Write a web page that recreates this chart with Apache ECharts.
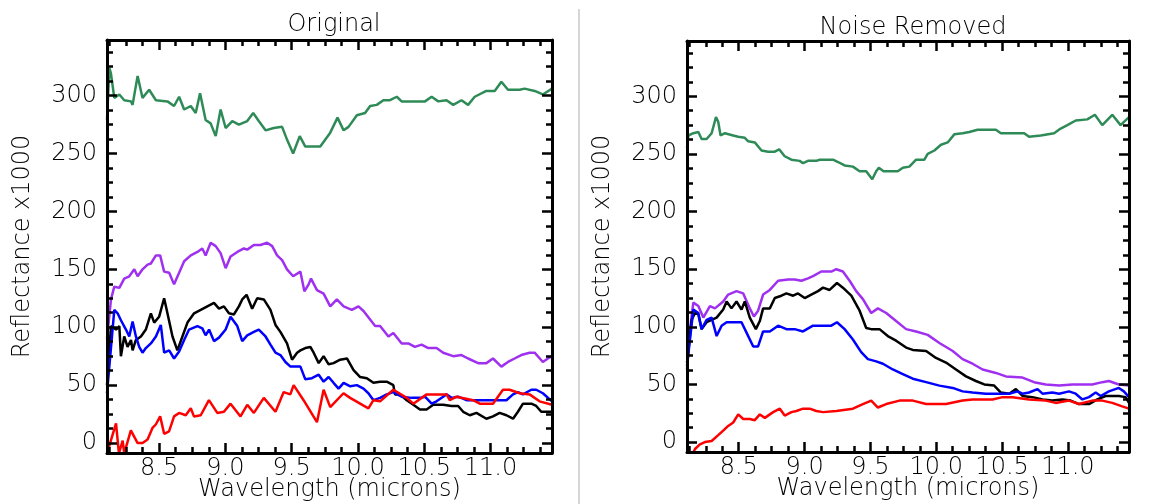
<!DOCTYPE html>
<html>
<head>
<meta charset="utf-8">
<title>Original / Noise Removed</title>
<script src="https://cdn.jsdelivr.net/npm/echarts@6.0.0/dist/echarts.min.js"></script>
<style>
  html, body { margin: 0; padding: 0; background: #fff; }
  #chart { width: 1150px; height: 504px; }
</style>
</head>
<body>
<div id="chart"></div>
<script>
// Axes shared by both panels
const xMin = 8.107, xMax = 11.464;
const yMin = -8.6, yMax = 348;
const xMajorTicks = [8.5, 9.0, 9.5, 10.0, 10.5, 11.0];
const xMinorTicks = [8.125, 8.25, 8.375, 8.625, 8.75, 8.875, 9.125, 9.25, 9.375, 9.625, 9.75, 9.875,
  10.125, 10.25, 10.375, 10.625, 10.75, 10.875, 11.125, 11.25, 11.375];
const yMajorTicks = [0, 50, 100, 150, 200, 250, 300];
const yMinorTicks = [12.5, 25, 37.5, 62.5, 75, 87.5, 112.5, 125, 137.5, 162.5, 175, 187.5,
  212.5, 225, 237.5, 262.5, 275, 287.5, 312.5, 325, 337.5];

// Panel 1 : Original  -> [wavelength (microns), reflectance x1000]
const origGreen = [[8.107,279],[8.125,324],[8.137,319],[8.162,298],[8.2,301],[8.237,296],[8.288,295],[8.3,292],
  [8.338,317],[8.375,298],[8.425,305],[8.476,296],[8.563,295],[8.613,291],[8.651,299],[8.689,288],[8.739,291],
  [8.776,285],[8.809,302],[8.851,279],[8.889,276],[8.927,265],[8.964,288],[9.002,272],[9.052,278],[9.102,275],
  [9.165,278],[9.21,285],[9.252,278],[9.303,270],[9.365,272],[9.428,273],[9.465,262],[9.511,250],[9.561,265],
  [9.603,256],[9.716,256],[9.791,268],[9.846,281],[9.892,270],[9.929,273],[9.992,283],[10.054,285],[10.092,291],
  [10.142,292],[10.192,296],[10.242,296],[10.293,299],[10.33,295],[10.506,295],[10.556,299],[10.606,295],
  [10.668,296],[10.719,292],[10.781,296],[10.831,292],[10.881,299],[10.969,304],[11.032,304],[11.082,312],
  [11.132,305],[11.22,305],[11.257,306],[11.333,304],[11.395,301],[11.464,306]];
const origPurple = [[8.107,90],[8.137,124],[8.162,135],[8.2,134],[8.237,142],[8.275,144],[8.313,150],[8.338,144],
  [8.375,150],[8.413,154],[8.438,155],[8.476,162],[8.508,162],[8.538,148],[8.576,147],[8.613,137],[8.651,147],
  [8.689,157],[8.739,162],[8.789,165],[8.826,168],[8.851,162],[8.889,173],[8.927,170],[8.964,164],[9.002,151],
  [9.039,161],[9.09,165],[9.14,168],[9.165,167],[9.215,171],[9.265,171],[9.315,173],[9.353,170],[9.39,162],
  [9.428,158],[9.465,150],[9.511,144],[9.566,148],[9.596,131],[9.628,137],[9.646,142],[9.691,132],[9.741,129],
  [9.791,118],[9.841,124],[9.892,118],[9.954,115],[10.004,118],[10.042,114],[10.13,101],[10.167,101],[10.23,92],
  [10.267,95],[10.33,86],[10.38,86],[10.43,83],[10.48,85],[10.531,82],[10.593,82],[10.643,78],[10.719,75],
  [10.781,76],[10.831,73],[10.907,69],[10.969,69],[11.019,73],[11.082,66],[11.132,70],[11.182,73],[11.232,76],
  [11.295,78],[11.333,78],[11.395,70],[11.433,73],[11.464,75]];
const origBlack = [[8.107,50],[8.137,101],[8.175,98],[8.2,101],[8.212,75],[8.237,92],[8.262,83],[8.288,89],
  [8.3,80],[8.325,89],[8.363,92],[8.4,98],[8.438,112],[8.463,104],[8.5,109],[8.538,125],[8.563,112],[8.601,92],
  [8.638,80],[8.676,92],[8.714,104],[8.764,112],[8.814,115],[8.864,118],[8.914,121],[8.952,116],[8.989,118],
  [9.027,112],[9.064,111],[9.102,118],[9.127,124],[9.16,128],[9.202,116],[9.24,125],[9.29,124],[9.34,115],
  [9.378,102],[9.415,96],[9.465,86],[9.503,72],[9.541,78],[9.566,80],[9.603,82],[9.641,83],[9.666,78],
  [9.704,69],[9.741,75],[9.779,68],[9.816,69],[9.866,72],[9.917,73],[9.967,63],[10.017,57],[10.067,56],
  [10.117,52],[10.167,53],[10.217,53],[10.267,50],[10.28,42],[10.318,42],[10.368,37],[10.418,33],[10.468,29],
  [10.518,29],[10.568,33],[10.643,33],[10.706,32],[10.756,32],[10.794,27],[10.844,24],[10.894,26],[10.969,21],
  [11.019,23],[11.069,26],[11.12,24],[11.17,21],[11.207,27],[11.245,34],[11.308,34],[11.345,32],[11.383,27],
  [11.464,27]];
const origBlue = [[8.107,43],[8.162,115],[8.187,112],[8.212,106],[8.25,98],[8.275,92],[8.3,105],[8.325,92],
  [8.35,83],[8.375,78],[8.4,82],[8.438,86],[8.476,92],[8.513,102],[8.538,78],[8.576,80],[8.613,73],[8.651,79],
  [8.689,89],[8.726,98],[8.789,101],[8.826,99],[8.851,93],[8.877,98],[8.914,88],[8.952,91],[9.002,98],
  [9.039,109],[9.09,101],[9.127,88],[9.165,93],[9.215,96],[9.252,98],[9.303,92],[9.34,85],[9.378,78],
  [9.415,76],[9.453,70],[9.491,66],[9.566,66],[9.603,55],[9.653,56],[9.704,59],[9.741,53],[9.779,57],
  [9.816,52],[9.854,47],[9.892,52],[9.942,49],[9.992,50],[10.042,47],[10.079,43],[10.117,37],[10.167,39],
  [10.217,42],[10.267,44],[10.33,40],[10.405,39],[10.468,39],[10.506,40],[10.556,34],[10.593,36],[10.643,40],
  [10.668,42],[10.706,39],[10.756,40],[10.819,37],[11.019,37],[11.12,37],[11.17,42],[11.207,44],[11.245,42],
  [11.308,46],[11.345,46],[11.395,43],[11.464,36]];
const origRed = [[8.107,-9],[8.175,17],[8.197,-9],[8.225,2],[8.237,-9],[8.287,11],[8.338,0],[8.375,0],
  [8.413,3],[8.45,13],[8.475,16],[8.508,23],[8.538,8],[8.575,10],[8.613,23],[8.651,26],[8.701,24],[8.739,30],
  [8.763,23],[8.814,24],[8.876,37],[8.939,26],[8.989,27],[9.039,34],[9.114,23],[9.165,33],[9.215,26],
  [9.29,39],[9.378,27],[9.44,44],[9.49,42],[9.515,50],[9.59,37],[9.691,18],[9.741,46],[9.791,31],[9.891,43],
  [9.941,39],[10.079,30],[10.117,37],[10.167,36],[10.267,46],[10.368,39],[10.418,34],[10.518,42],[10.669,42],
  [10.693,37],[10.744,40],[10.869,37],[10.919,34],[11.019,34],[11.094,46],[11.144,46],[11.22,43],[11.295,42],
  [11.37,36],[11.464,33]];

// Panel 2 : Noise Removed
const cleanGreen = [[8.107,255],[8.117,266],[8.155,268],[8.193,269],[8.218,263],[8.256,263],[8.294,268],
  [8.327,282],[8.344,278],[8.362,266],[8.395,268],[8.458,266],[8.496,265],[8.546,264],[8.572,261],[8.622,260],
  [8.673,253],[8.723,252],[8.774,252],[8.807,254],[8.849,248],[8.9,245],[8.963,244],[8.988,242],[9.026,244],
  [9.089,244],[9.115,245],[9.216,245],[9.254,243],[9.304,240],[9.367,239],[9.418,235],[9.468,235],[9.514,228],
  [9.544,235],[9.564,238],[9.6,235],[9.708,235],[9.746,238],[9.796,239],[9.847,245],[9.91,245],[9.935,250],
  [9.986,253],[10.036,258],[10.087,260],[10.137,267],[10.2,268],[10.251,269],[10.314,271],[10.453,271],
  [10.491,268],[10.668,268],[10.705,265],[10.794,266],[10.895,268],[10.945,272],[10.996,275],[11.059,279],
  [11.147,280],[11.205,284],[11.261,275],[11.337,284],[11.4,275],[11.464,282]];
const cleanPurple = [[8.107,63],[8.13,98],[8.155,121],[8.193,118],[8.231,108],[8.281,118],[8.319,116],
  [8.382,122],[8.42,128],[8.483,131],[8.534,129],[8.584,116],[8.615,109],[8.647,114],[8.685,128],[8.736,132],
  [8.799,140],[8.875,141],[8.925,141],[8.976,140],[9.026,142],[9.064,144],[9.127,148],[9.203,148],[9.241,150],
  [9.291,148],[9.342,140],[9.392,131],[9.443,124],[9.506,112],[9.557,116],[9.62,112],[9.695,105],[9.771,98],
  [9.847,96],[9.935,93],[10.024,86],[10.125,79],[10.2,72],[10.276,68],[10.352,63],[10.453,60],[10.529,57],
  [10.655,56],[10.743,52],[10.832,50],[10.933,49],[11.034,50],[11.185,50],[11.261,52],[11.311,53],[11.387,50],
  [11.464,49]];
const cleanBlack = [[8.107,69],[8.142,106],[8.168,112],[8.193,111],[8.218,98],[8.256,104],[8.294,106],
  [8.332,108],[8.382,115],[8.408,122],[8.445,116],[8.483,122],[8.521,115],[8.546,122],[8.584,108],[8.63,98],
  [8.66,105],[8.685,116],[8.736,116],[8.774,125],[8.824,127],[8.862,129],[8.913,127],[8.95,129],[9.001,125],
  [9.051,128],[9.102,131],[9.14,134],[9.19,132],[9.246,138],[9.291,134],[9.355,127],[9.418,114],[9.468,99],
  [9.506,98],[9.569,98],[9.632,92],[9.695,88],[9.771,82],[9.822,80],[9.923,79],[9.998,73],[10.074,69],
  [10.15,63],[10.226,57],[10.301,53],[10.365,50],[10.44,49],[10.491,43],[10.554,42],[10.605,46],[10.655,40],
  [10.731,39],[10.807,37],[10.882,36],[10.958,37],[11.021,36],[11.084,33],[11.16,33],[11.223,37],[11.286,40],
  [11.387,40],[11.438,39],[11.464,34]];
const cleanBlue = [[8.107,66],[8.155,115],[8.193,112],[8.218,98],[8.256,106],[8.294,108],[8.332,92],
  [8.37,101],[8.408,104],[8.521,104],[8.559,95],[8.61,83],[8.647,83],[8.685,96],[8.736,96],[8.799,101],
  [8.862,98],[8.925,98],[8.988,96],[9.064,101],[9.14,101],[9.203,101],[9.246,104],[9.304,98],[9.367,89],
  [9.43,78],[9.481,72],[9.544,70],[9.595,68],[9.67,63],[9.746,59],[9.822,55],[9.923,52],[10.024,49],
  [10.125,47],[10.2,44],[10.276,43],[10.377,42],[10.478,42],[10.554,42],[10.617,44],[10.655,42],[10.705,43],
  [10.769,46],[10.807,42],[10.882,43],[10.933,42],[11.008,44],[11.059,42],[11.11,37],[11.16,39],[11.211,43],
  [11.249,40],[11.311,44],[11.387,47],[11.425,44],[11.464,39]];
const cleanRed = [[8.13,-15],[8.168,-6],[8.205,-2],[8.243,0],[8.294,1],[8.344,6],[8.382,10],[8.42,14],
  [8.458,17],[8.496,24],[8.534,20],[8.584,20],[8.622,19],[8.66,24],[8.698,21],[8.761,26],[8.812,29],[8.849,23],
  [8.9,26],[8.938,27],[8.988,29],[9.039,29],[9.089,27],[9.14,26],[9.241,27],[9.367,29],[9.443,33],[9.506,36],
  [9.557,30],[9.62,33],[9.721,36],[9.822,36],[9.923,33],[10.074,33],[10.2,36],[10.276,37],[10.428,37],
  [10.503,39],[10.579,39],[10.705,37],[10.832,36],[10.907,34],[11.008,36],[11.084,33],[11.185,36],[11.261,36],
  [11.337,34],[11.412,31],[11.464,29]];

const FONT = 'DejaVu Sans';
const INK = '#000';
const AXIS_LINE = { show: true, onZero: false, lineStyle: { color: '#000', width: 3 } };
const textStyle = { color: INK, fontSize: 24, fontFamily: FONT, fontWeight: 200 };

// 4 x axes for one grid : bottom / top, major and minor ticks
function xAxesFor(gridIndex) {
  const base = {
    type: 'value', gridIndex: gridIndex, min: xMin, max: xMax,
    splitLine: { show: false }, axisLabel: { show: false },
    axisLine: { show: false, onZero: false }, z: 5
  };
  return [
    Object.assign({}, base, {
      position: 'bottom', axisLine: AXIS_LINE,
      axisTick: { inside: true, length: 10, customValues: xMajorTicks, lineStyle: { color: '#000', width: 2.5 } },
      axisLabel: Object.assign({ show: true, customValues: xMajorTicks, margin: 4,
        formatter: v => v.toFixed(1) }, textStyle),
      name: 'Wavelength (microns)', nameLocation: 'middle', nameGap: 25, nameMoveOverlap: false,
      nameTextStyle: textStyle
    }),
    Object.assign({}, base, {
      position: 'bottom',
      axisTick: { inside: true, length: 6, customValues: xMinorTicks, lineStyle: { color: '#000', width: 2.5 } }
    }),
    Object.assign({}, base, {
      position: 'top', axisLine: AXIS_LINE,
      axisTick: { inside: true, length: 10, customValues: xMajorTicks, lineStyle: { color: '#000', width: 2.5 } }
    }),
    Object.assign({}, base, {
      position: 'top',
      axisTick: { inside: true, length: 6, customValues: xMinorTicks, lineStyle: { color: '#000', width: 2.5 } }
    })
  ];
}

function yAxesFor(gridIndex) {
  const base = {
    type: 'value', gridIndex: gridIndex, min: yMin, max: yMax,
    splitLine: { show: false }, axisLabel: { show: false },
    axisLine: { show: false, onZero: false }, z: 5
  };
  return [
    Object.assign({}, base, {
      position: 'left', axisLine: AXIS_LINE,
      axisTick: { inside: true, length: 10, customValues: yMajorTicks, lineStyle: { color: '#000', width: 2.5 } },
      axisLabel: Object.assign({ show: true, customValues: yMajorTicks, margin: 10 }, textStyle),
      name: 'Reflectance x1000', nameLocation: 'middle', nameGap: 72, nameMoveOverlap: false,
      nameTextStyle: textStyle
    }),
    Object.assign({}, base, {
      position: 'left',
      axisTick: { inside: true, length: 6, customValues: yMinorTicks, lineStyle: { color: '#000', width: 2.5 } }
    }),
    Object.assign({}, base, {
      position: 'right', axisLine: AXIS_LINE,
      axisTick: { inside: true, length: 10, customValues: yMajorTicks, lineStyle: { color: '#000', width: 2.5 } }
    }),
    Object.assign({}, base, {
      position: 'right',
      axisTick: { inside: true, length: 6, customValues: yMinorTicks, lineStyle: { color: '#000', width: 2.5 } }
    })
  ];
}

function spectrum(data, color, axisIndex) {
  return {
    type: 'line', data: data, xAxisIndex: axisIndex, yAxisIndex: axisIndex,
    showSymbol: false, symbol: 'none', clip: true, z: 2,
    lineStyle: { color: color, width: 2.5 }
  };
}

const GREEN = '#2e8b57', PURPLE = '#a030f0', BLACK = '#000000', BLUE = '#0000ff', RED = '#ff0000';

const chart = echarts.init(document.getElementById('chart'));
chart.setOption({
  animation: false,
  backgroundColor: '#fff',
  title: [
    { text: 'Original', left: 329, top: 8, textAlign: 'center', textStyle: textStyle },
    { text: 'Noise Removed', left: 908, top: 11, textAlign: 'center', textStyle: textStyle }
  ],
  grid: [
    { left: 107, top: 40, width: 445, height: 413, outerBoundsMode: 'none' },
    { left: 687, top: 41, width: 442, height: 411, outerBoundsMode: 'none' }
  ],
  xAxis: xAxesFor(0).concat(xAxesFor(1)),
  yAxis: yAxesFor(0).concat(yAxesFor(1)),
  graphic: [{
    type: 'line', shape: { x1: 579, y1: 9, x2: 579, y2: 504 },
    style: { stroke: '#d6d6d6', lineWidth: 2 }
  }],
  series: [
    spectrum(origGreen, GREEN, 0),
    spectrum(origPurple, PURPLE, 0),
    spectrum(origBlack, BLACK, 0),
    spectrum(origBlue, BLUE, 0),
    spectrum(origRed, RED, 0),
    spectrum(cleanGreen, GREEN, 4),
    spectrum(cleanPurple, PURPLE, 4),
    spectrum(cleanBlack, BLACK, 4),
    spectrum(cleanBlue, BLUE, 4),
    spectrum(cleanRed, RED, 4)
  ]
});
</script>
</body>
</html>
